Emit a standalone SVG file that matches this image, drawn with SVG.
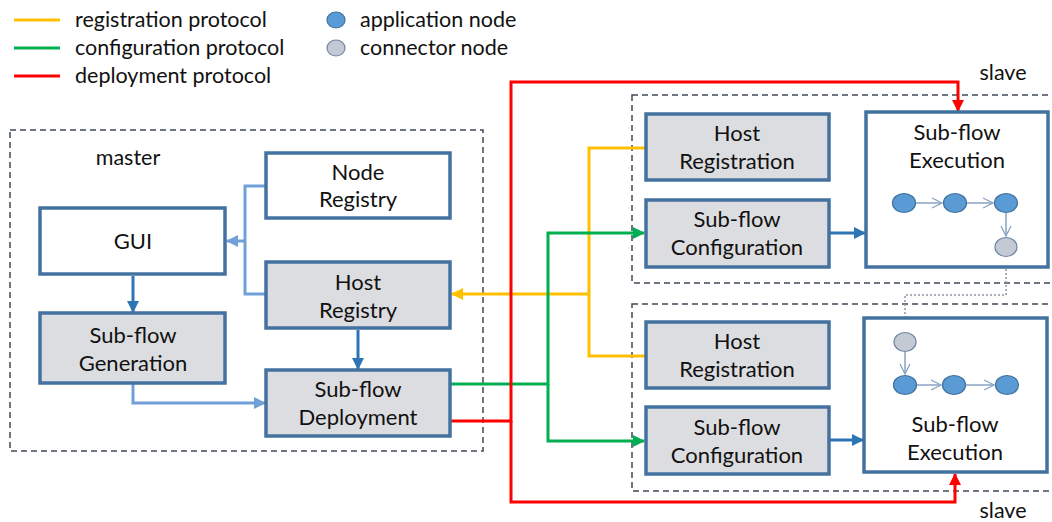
<svg xmlns="http://www.w3.org/2000/svg" width="1052" height="522" viewBox="0 0 1052 522">
<style>
text{font-family:Lato,"Open Sans","Liberation Sans",sans-serif;fill:#111;}
.t{font-size:22px;text-anchor:middle;}
.lg{font-size:21.5px;}
.lb{font-size:21.5px;text-anchor:middle;}
.box{stroke:#4472a0;stroke-width:3.5;}
.w{fill:#fff;}
.g{fill:#dcdde0;}
.dash{fill:none;stroke:#3e4a58;stroke-width:1.5;stroke-dasharray:6 4;}
.c{fill:none;stroke-width:3;}
.app{fill:#5b9bd5;stroke:#41719c;stroke-width:1.2;}
.con{fill:#c3cad4;stroke:#6f86a3;stroke-width:1.2;}
.ch{fill:none;stroke:#8aa3c2;stroke-width:1.5;}
</style>
<defs>
<marker id="aR" markerUnits="userSpaceOnUse" markerWidth="12" markerHeight="12" viewBox="0 0 12 12" refX="11" refY="6" orient="auto"><path d="M0,0 L12,6 L0,12 z" fill="#ff0000"/></marker>
<marker id="aG" markerUnits="userSpaceOnUse" markerWidth="12" markerHeight="12" viewBox="0 0 12 12" refX="11" refY="6" orient="auto"><path d="M0,0 L12,6 L0,12 z" fill="#00b050"/></marker>
<marker id="aY" markerUnits="userSpaceOnUse" markerWidth="12" markerHeight="12" viewBox="0 0 12 12" refX="11" refY="6" orient="auto"><path d="M0,0 L12,6 L0,12 z" fill="#ffc000"/></marker>
<marker id="aB" markerUnits="userSpaceOnUse" markerWidth="12" markerHeight="12" viewBox="0 0 12 12" refX="11" refY="6" orient="auto"><path d="M0,0 L12,6 L0,12 z" fill="#2e75b6"/></marker>
<marker id="aL" markerUnits="userSpaceOnUse" markerWidth="12" markerHeight="12" viewBox="0 0 12 12" refX="11" refY="6" orient="auto"><path d="M0,0 L12,6 L0,12 z" fill="#6fa0d8"/></marker>
<marker id="aV" markerUnits="userSpaceOnUse" markerWidth="12" markerHeight="12" viewBox="0 0 12 12" refX="11" refY="6" orient="auto"><path d="M1,1 L11,6 L1,11" fill="none" stroke="#8aa3c2" stroke-width="1.3"/></marker>
<marker id="aD" markerUnits="userSpaceOnUse" markerWidth="12" markerHeight="12" viewBox="0 0 12 12" refX="11" refY="6" orient="auto"><path d="M1,1 L11,6 L1,11" fill="none" stroke="#8c96a3" stroke-width="1.3"/></marker>
</defs>

<g id="legend">
<line x1="14" y1="20" x2="60" y2="20" stroke="#ffc000" stroke-width="3"/>
<line x1="14" y1="48" x2="60" y2="48" stroke="#00b050" stroke-width="3"/>
<line x1="14" y1="76" x2="60" y2="76" stroke="#ff0000" stroke-width="3"/>
<text class="lg" x="75" y="27">registration protocol</text>
<text class="lg" x="75" y="55">configuration protocol</text>
<text class="lg" x="75" y="83">deployment protocol</text>
<ellipse class="app" cx="336" cy="20" rx="9" ry="8"/>
<ellipse class="con" cx="336" cy="48" rx="9" ry="8"/>
<text class="lg" x="360" y="27">application node</text>
<text class="lg" x="360" y="55">connector node</text>
</g>

<g id="containers">
<rect class="dash" x="10" y="130" width="473" height="321"/>
<rect class="dash" x="632" y="95" width="430" height="188"/>
<rect class="dash" x="632" y="304" width="430" height="187"/>
<text class="lb" x="128" y="165">master</text>
<text class="lb" x="1003" y="80">slave</text>
<text class="lb" x="1003" y="518">slave</text>
</g>

<g id="connectors">
<path class="c" d="M266,186 H245 V294 H266" stroke="#6fa0d8"/>
<path class="c" d="M245,241 H227" stroke="#6fa0d8" marker-end="url(#aL)"/>
<path class="c" d="M133,384 V403 H265" stroke="#6fa0d8" marker-end="url(#aL)"/>
<path class="c" d="M133,276 V312" stroke="#2e75b6" marker-end="url(#aB)"/>
<path class="c" d="M358,330 V369" stroke="#2e75b6" marker-end="url(#aB)"/>
<path class="c" d="M830,233 H865" stroke="#2e75b6" marker-end="url(#aB)"/>
<path class="c" d="M830,440 H863" stroke="#2e75b6" marker-end="url(#aB)"/>
<path class="c" d="M645,148 H589 V356 H645" stroke="#ffc000"/>
<path class="c" d="M589,294 H452" stroke="#ffc000" marker-end="url(#aY)"/>
<path class="c" d="M451,384 H548 V233 H644" stroke="#00b050" marker-end="url(#aG)"/>
<path class="c" d="M548,384 V441 H644" stroke="#00b050" marker-end="url(#aG)"/>
<path class="c" d="M451,421 H511 V82 H958 V111" stroke="#ff0000" marker-end="url(#aR)"/>
<path class="c" d="M511,421 V502 H955 V474" stroke="#ff0000" marker-end="url(#aR)"/>
<path d="M1006,257 V295 H905 V331" fill="none" stroke="#8c96a3" stroke-width="1.5" stroke-dasharray="2 2" marker-end="url(#aD)"/>
</g>

<g id="node-registry"><rect class="box w" x="266" y="153" width="184" height="65"/><text class="t" x="358" y="180">Node</text><text class="t" x="358" y="207">Registry</text></g>
<g id="gui"><rect class="box w" x="40" y="208" width="185" height="66"/><text class="t" x="133" y="249">GUI</text></g>
<g id="host-registry"><rect class="box g" x="266" y="262" width="184" height="66"/><text class="t" x="358" y="290">Host</text><text class="t" x="358" y="318">Registry</text></g>
<g id="subflow-generation"><rect class="box g" x="40" y="313" width="185" height="70"/><text class="t" x="133" y="343">Sub-flow</text><text class="t" x="133" y="371">Generation</text></g>
<g id="subflow-deployment"><rect class="box g" x="266" y="370" width="184" height="66"/><text class="t" x="358" y="397">Sub-flow</text><text class="t" x="358" y="425">Deployment</text></g>

<g id="host-registration-1"><rect class="box g" x="646" y="114" width="183" height="66"/><text class="t" x="737" y="141">Host</text><text class="t" x="737" y="169">Registration</text></g>
<g id="subflow-configuration-1"><rect class="box g" x="646" y="200" width="183" height="67"/><text class="t" x="737" y="227">Sub-flow</text><text class="t" x="737" y="255">Configuration</text></g>
<g id="subflow-execution-1"><rect class="box w" x="866" y="112" width="182" height="155"/><text class="t" x="957" y="140">Sub-flow</text><text class="t" x="957" y="168">Execution</text>
<path class="ch" d="M916,203 H942" marker-end="url(#aV)"/><path class="ch" d="M967,203 H993" marker-end="url(#aV)"/><path class="ch" d="M1006,213 V236" marker-end="url(#aV)"/>
<ellipse class="app" cx="904" cy="203" rx="11.5" ry="9.5"/><ellipse class="app" cx="955" cy="203" rx="11.5" ry="9.5"/><ellipse class="app" cx="1006" cy="203" rx="11.5" ry="9.5"/><ellipse class="con" cx="1006" cy="247" rx="11" ry="9.5"/></g>

<g id="host-registration-2"><rect class="box g" x="646" y="322" width="183" height="66"/><text class="t" x="737" y="349">Host</text><text class="t" x="737" y="377">Registration</text></g>
<g id="subflow-configuration-2"><rect class="box g" x="646" y="407" width="183" height="67"/><text class="t" x="737" y="435">Sub-flow</text><text class="t" x="737" y="463">Configuration</text></g>
<g id="subflow-execution-2"><rect class="box w" x="864" y="318" width="183" height="154"/><text class="t" x="955" y="432">Sub-flow</text><text class="t" x="955" y="460">Execution</text>
<path class="ch" d="M905,352 V374" marker-end="url(#aV)"/><path class="ch" d="M917,385 H941" marker-end="url(#aV)"/><path class="ch" d="M966,385 H994" marker-end="url(#aV)"/>
<ellipse class="con" cx="905" cy="342" rx="11" ry="9.5"/><ellipse class="app" cx="905" cy="385" rx="11.5" ry="9.5"/><ellipse class="app" cx="954" cy="385" rx="11.5" ry="9.5"/><ellipse class="app" cx="1007" cy="385" rx="11.5" ry="9.5"/></g>
</svg>
